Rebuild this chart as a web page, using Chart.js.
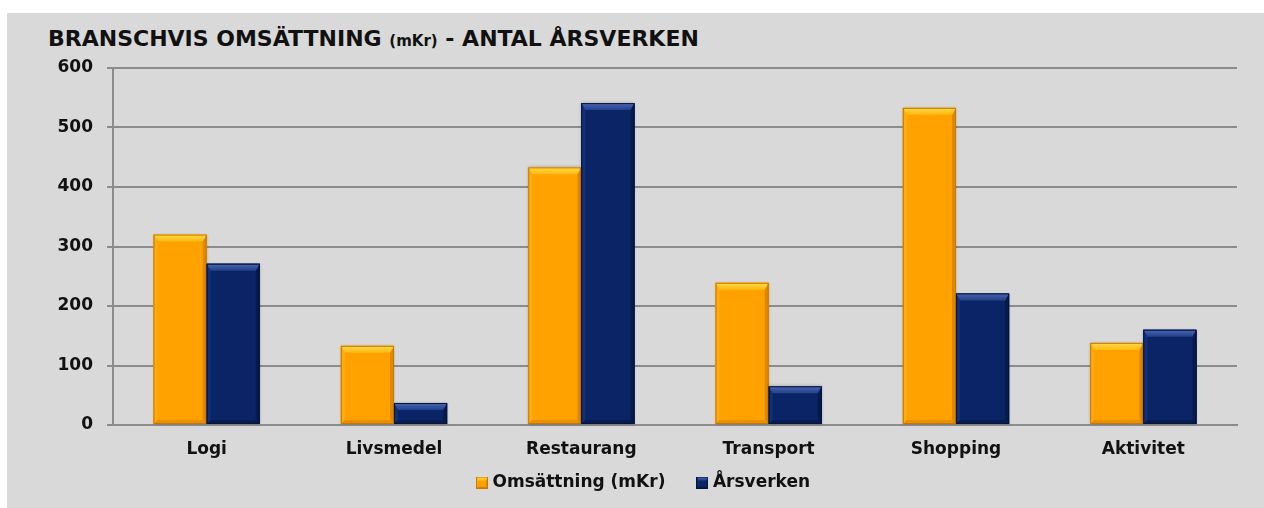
<!DOCTYPE html>
<html><head><meta charset="utf-8">
<script src="https://cdn.jsdelivr.net/npm/chart.js@4"></script>
<style>
html,body{margin:0;padding:0;background:#fff;width:1264px;height:508px;overflow:hidden}
#wrap{position:absolute;left:7px;top:13px;width:1257px;height:495px;background:#d9d9d9}
#title{position:absolute;left:41px;top:15px;font-family:"DejaVu Sans";font-weight:bold;font-size:22px;color:#111;white-space:nowrap;line-height:1}
#title small{font-size:15px}
canvas{position:absolute;left:0;top:0}
</style></head><body>
<div id="wrap"><div id="title">BRANSCHVIS OMSÄTTNING <small>(mKr)</small> - ANTAL ÅRSVERKEN</div><canvas id="c" width="1257" height="495" style="width:1257px;height:495px"></canvas></div>
<script>
const categories = ["Logi", "Livsmedel", "Restaurang", "Transport", "Shopping", "Aktivitet"];
const omsattning = [320, 133, 433, 239, 533, 138];
const arsverken = [271, 37, 541, 65, 221, 160];
const seriesNames = ["Omsättning (mKr)", "Årsverken"];
const yTicks = [0, 100, 200, 300, 400, 500, 600];

const palette = [
  {body:'#ffa200', top:'#ffd84a', topEnd:'#ffba10', left:'#ffab12', right:'#e08800', bottom:'#e88e00', edge:'#c77a00'},
  {body:'#0b2466', top:'#4a68b0', topEnd:'#22408a', left:'#12307a', right:'#061a4c', bottom:'#071c52', edge:'#04143c'}
];

function bevelRect(ctx, L, T, R, B, p, bt, bs) {
  ctx.fillStyle = p.body; ctx.fillRect(L, T, R - L, B - T);
  ctx.fillStyle = p.left;
  ctx.beginPath(); ctx.moveTo(L, T); ctx.lineTo(L + bs, T + bt); ctx.lineTo(L + bs, B - bs); ctx.lineTo(L, B); ctx.closePath(); ctx.fill();
  ctx.fillStyle = p.right;
  ctx.beginPath(); ctx.moveTo(R, T); ctx.lineTo(R - bs, T + bt); ctx.lineTo(R - bs, B - bs); ctx.lineTo(R, B); ctx.closePath(); ctx.fill();
  ctx.fillStyle = p.bottom;
  ctx.beginPath(); ctx.moveTo(L, B); ctx.lineTo(L + bs, B - bs); ctx.lineTo(R - bs, B - bs); ctx.lineTo(R, B); ctx.closePath(); ctx.fill();
  const g = ctx.createLinearGradient(0, T, 0, T + bt);
  g.addColorStop(0, p.top); g.addColorStop(1, p.topEnd);
  ctx.fillStyle = g;
  ctx.beginPath(); ctx.moveTo(L, T); ctx.lineTo(R, T); ctx.lineTo(R - bs, T + bt); ctx.lineTo(L + bs, T + bt); ctx.closePath(); ctx.fill();
  ctx.strokeStyle = p.edge; ctx.lineWidth = 1;
  ctx.strokeRect(L + 0.5, T + 0.5, R - L - 1, B - T - 1);
}

function legendIcon(p) {
  const c = document.createElement('canvas'); c.width = 12; c.height = 12;
  bevelRect(c.getContext('2d'), 0, 0, 12, 12, p, 4, 2);
  return c;
}

const bevelPlugin = {
  id: 'bevel',
  afterDatasetsDraw(chart) {
    const ctx = chart.ctx;
    chart.data.datasets.forEach((ds, i) => {
      const meta = chart.getDatasetMeta(i);
      meta.data.forEach(el => {
        const {x, y, base, width} = el.getProps(['x', 'y', 'base', 'width'], true);
        const L = x - width / 2, R = x + width / 2;
        ctx.save();
        ctx.shadowColor = 'rgba(0,0,0,0.3)'; ctx.shadowBlur = 3;
        ctx.fillStyle = palette[i].body; ctx.fillRect(L, y, R - L, base - y);
        ctx.restore();
        ctx.save();
        bevelRect(ctx, L, y, R, base, palette[i], 7, 4);
        ctx.restore();
      });
    });
  },
  afterLayout(chart) {
    const lg = chart.legend;
    if (lg) { lg.left += 20; lg.right += 20; lg.top -= 22; lg.bottom -= 22; }
  }
};

new Chart(document.getElementById('c'), {
  type: 'bar',
  data: {
    labels: categories,
    datasets: [
      {label: seriesNames[0], data: omsattning, backgroundColor: palette[0].body, pointStyle: legendIcon(palette[0]), barPercentage: 1, categoryPercentage: 0.567, borderWidth: 0},
      {label: seriesNames[1], data: arsverken, backgroundColor: palette[1].body, pointStyle: legendIcon(palette[1]), barPercentage: 1, categoryPercentage: 0.567, borderWidth: 0}
    ]
  },
  options: {
    responsive: false,
    animation: false,
    layout: {padding: {left: 6, right: 27, top: 55, bottom: -15}},
    plugins: {
      title: {display: false},
      tooltip: {enabled: false},
      legend: {
        position: 'bottom',
        labels: {usePointStyle: true, pointStyleWidth: 4, font: {family: 'DejaVu Sans', weight: 'bold', size: 17}, color: '#111', padding: 35, boxWidth: 12, boxHeight: 12}
      }
    },
    scales: {
      x: {
        grid: {display: false, drawTicks: false},
        border: {display: true, color: '#8c8c8c', width: 2},
        ticks: {font: {family: 'DejaVu Sans', weight: 'bold', size: 17}, color: '#111', padding: 14},
        afterFit(s) { s.height = 36; }
      },
      y: {
        min: 0, max: 600,
        afterBuildTicks(s) { s.ticks = yTicks.map(v => ({value: v})); },
        ticks: {font: {family: 'DejaVu Sans', weight: 'bold', size: 17}, color: '#111', padding: 14},
        grid: {color: '#8c8c8c', lineWidth: 2, tickLength: 6, drawTicks: true},
        border: {display: true, color: '#8c8c8c', width: 2},
        afterFit(s) { s.width = 100; }
      }
    }
  },
  plugins: [bevelPlugin]
});
</script>
</body></html>
